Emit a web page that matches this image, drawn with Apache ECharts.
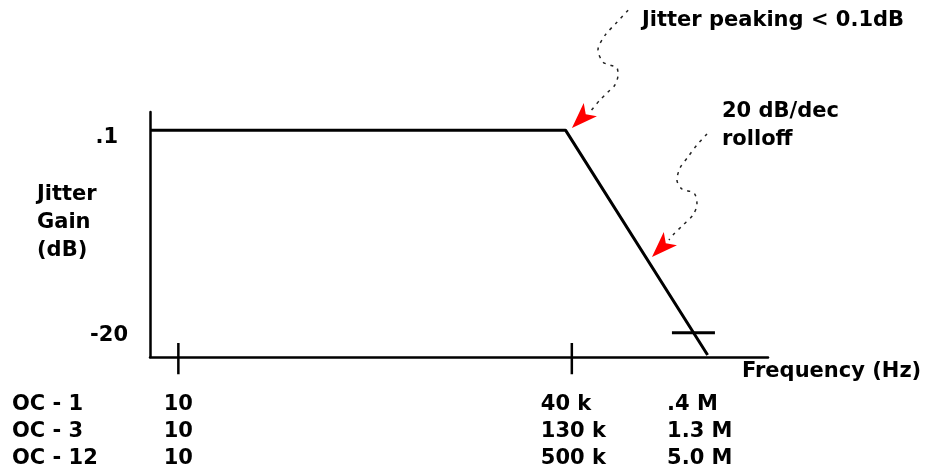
<!DOCTYPE html>
<html><head><meta charset="utf-8">
<script src="https://cdn.jsdelivr.net/npm/echarts@6/dist/echarts.min.js"></script>
<style>html,body{margin:0;padding:0;background:#fff}#c{width:926px;height:472px}</style>
</head><body><div id="c"></div>
<script>
// Jitter transfer response (frequency in Hz, gain in dB)
const responseFreq = [5.5, 35000, 700000];
const responseGain = [0.1, 0.1, -22.2];
// -20 dB marker on the roll-off
const markerFreq = [330000, 817000];
const markerGain = [-20, -20];
// x-axis tick positions (Hz) and the gain span each tick mark crosses (dB)
const xTicks = [10, 40000];
const tickSpan = [-21.0, -24.1];
// y-axis tick labels
const yTickValues = [0.1, -20];
const yTickLabels = ['.1', '-20'];
// table under the axis
const rowLabels = ['OC - 1', 'OC - 3', 'OC - 12'];
const colFreq = [10, 40000, 400000];
const tableCols = [['10', '10', '10'], ['40 k', '130 k', '500 k'], ['.4 M', '1.3 M', '5.0 M']];
// annotation leaders (Hz, dB)
const peakNoteFreq = [131000, 103600, 80400, 69400, 77100, 89400, 103600, 105800, 99300, 85700, 72400, 58700];
const peakNoteGain = [12.0, 10.8, 9.5, 8.05, 6.86, 6.56, 6.27, 5.57, 4.58, 3.88, 3.09, 1.9];
const rollNoteFreq = [690800, 559400, 462800, 390900, 366900, 407800, 525300, 559400, 514300, 416500, 337300, 310000];
const rollNoteGain = [-0.28, -1.37, -2.56, -3.66, -4.85, -5.74, -6.14, -7.23, -8.32, -9.31, -10.3, -10.8];
// arrow tips (Hz, dB)
const arrowFreq = [40100, 216700];
const arrowGain = [0.31, -12.48];
const notes = ['Jitter peaking < 0.1dB', '20 dB/dec', 'rolloff'];
const xTitle = 'Frequency (Hz)';
const yTitle = ['Jitter', 'Gain', '(dB)'];

const zip = (a, b) => a.map((v, i) => [v, b[i]]);
const FONT = 'bold 21px "DejaVu Sans"';
const chart = echarts.init(document.getElementById('c'));

const tickData = [];
xTicks.forEach((f, i) => {
  if (i > 0) tickData.push(['-', '-']);
  tickData.push([f, tickSpan[0]], [f, tickSpan[1]]);
});
const labelFont = { fontSize: 21, fontWeight: 'bold', fontFamily: 'DejaVu Sans', color: '#000' };
chart.setOption({
  animation: false,
  grid: { left: 150, right: 158, top: 112, bottom: 115 },
  xAxis: {
    type: 'log', logBase: 10, min: 5.5, max: 2.5e6,
    axisLabel: { show: false }, splitLine: { show: false }, minorTick: { show: false },
    axisLine: { show: true, onZero: false, lineStyle: { color: '#000', width: 2.5 } },
    axisTick: { show: false }
  },
  yAxis: {
    type: 'value', min: -22.4, max: 1.9,
    axisLine: { show: true, onZero: false, lineStyle: { color: '#000', width: 2.5 } },
    axisTick: { show: false }, splitLine: { show: false },
    axisLabel: {
      customValues: yTickValues, margin: 22,
      formatter: v => {
        const i = yTickValues.findIndex(t => Math.abs(t - v) < 1e-6);
        return i === 0 ? '{a|' + yTickLabels[0] + '}' : '{b|' + yTickLabels[1] + '}';
      },
      rich: {
        a: Object.assign({ padding: [14, 10, 0, 0] }, labelFont),
        b: Object.assign({ padding: [6, 0, 0, 0] }, labelFont)
      }
    }
  },
  series: [
    { type: 'line', data: zip(responseFreq, responseGain), symbol: 'none', lineStyle: { color: '#000', width: 3 }, silent: true },
    { type: 'line', data: zip(markerFreq, markerGain), symbol: 'none', lineStyle: { color: '#000', width: 3 }, silent: true },
    { type: 'line', data: tickData, symbol: 'none', clip: false, connectNulls: false,
      lineStyle: { color: '#000', width: 2.5 }, silent: true },
    { type: 'line', data: zip(peakNoteFreq, peakNoteGain), symbol: 'none', smooth: 0.3, clip: false,
      lineStyle: { color: '#222', width: 1.5, type: [3, 5] }, silent: true },
    { type: 'line', data: zip(rollNoteFreq, rollNoteGain), symbol: 'none', smooth: 0.3, clip: false,
      lineStyle: { color: '#222', width: 1.5, type: [3, 5] }, silent: true },
    { type: 'scatter', data: zip(arrowFreq, arrowGain), symbol: 'arrow', symbolSize: [14, 26], symbolRotate: 135,
      itemStyle: { color: '#ff0000', opacity: 1 }, clip: false, silent: true }
  ]
});

const px = f => chart.convertToPixel({ xAxisIndex: 0 }, f);
const rowY = [405, 432, 459];
const colAnchor = [{ dx: 0, align: 'center' }, { dx: -31, align: 'left' }, { dx: -14, align: 'left' }];
const txt = (text, x, y, align) => ({ type: 'text', x: x, y: y, silent: true,
  style: { text: text, font: FONT, fill: '#000', textAlign: align || 'left', textVerticalAlign: 'middle' } });
const g = [];
g.push(txt(notes[0], 642, 21));
g.push(txt(notes[1], 722, 112));
g.push(txt(notes[2], 722, 140));
g.push(txt(xTitle, 742, 372));
yTitle.forEach((t, i) => g.push(txt(t, 37, 195 + i * 28)));
rowLabels.forEach((t, r) => g.push(txt(t, 12, rowY[r])));
tableCols.forEach((col, c) => {
  const x0 = px(colFreq[c]) + colAnchor[c].dx;
  col.forEach((t, r) => g.push(txt(t, x0, rowY[r], colAnchor[c].align)));
});
chart.setOption({ graphic: g });
</script></body></html>
